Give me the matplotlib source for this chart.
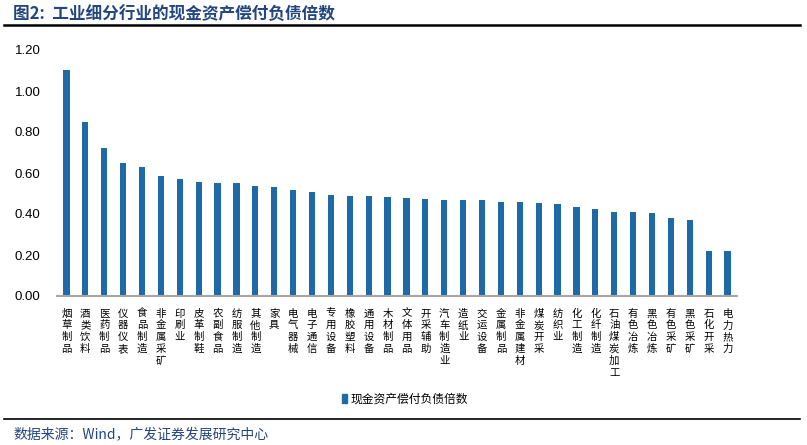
import matplotlib
matplotlib.use('Agg')
import matplotlib.pyplot as plt
from matplotlib.lines import Line2D

plt.rcParams['font.family'] = ['Noto Sans CJK SC', 'DejaVu Sans']

# data
categories = ['烟草制品', '酒类饮料', '医药制品', '仪器仪表', '食品制造', '非金属采矿',
              '印刷业', '皮革制鞋', '农副食品', '纺服制造', '其他制造', '家具',
              '电气器械', '电子通信', '专用设备', '橡胶塑料', '通用设备', '木材制品',
              '文体用品', '开采辅助', '汽车制造业', '造纸业', '交运设备', '金属制品',
              '非金属建材', '煤炭开采', '纺织业', '化工制造', '化纤制造', '石油煤炭加工',
              '有色冶炼', '黑色冶炼', '有色采矿', '黑色采矿', '石化开采', '电力热力']
values = [1.10, 0.85, 0.72, 0.647, 0.63, 0.584,
          0.572, 0.555, 0.551, 0.551, 0.535, 0.533,
          0.516, 0.506, 0.494, 0.489, 0.489, 0.484,
          0.476, 0.471, 0.470, 0.470, 0.468, 0.459,
          0.457, 0.455, 0.449, 0.436, 0.426, 0.410,
          0.410, 0.405, 0.382, 0.372, 0.220, 0.218]
yticks = [0.0, 0.2, 0.4, 0.6, 0.8, 1.0, 1.2]
series_name = '现金资产偿付负债倍数'

bar_color = '#1E6AA6'
navy = '#22467F'

fig = plt.figure(figsize=(8.07, 4.45), dpi=100)
ax = fig.add_axes([57 / 807, 1 - 296 / 445, 680 / 807, 246 / 445])

x = range(len(categories))
ax.bar(x, values, width=0.33, color=bar_color, label=series_name)

ax.set_xlim(-0.5, len(categories) - 0.5)
ax.set_ylim(0, 1.2)
ax.set_yticks(yticks)
ax.set_yticklabels([f'{v:.2f}' for v in yticks], family=['Liberation Sans', 'DejaVu Sans'],
                   fontsize=9.5)
ax.set_xticks(list(x))
ax.set_xticklabels(['\n'.join(c) for c in categories], fontsize=7.5, linespacing=1.22,
                   va='top')
ax.tick_params(axis='both', length=0)
ax.tick_params(axis='y', pad=12)
ax.tick_params(axis='x', pad=9)

for s in ['top', 'right', 'left']:
    ax.spines[s].set_visible(False)
ax.spines['bottom'].set_color('#A6A6A6')
ax.spines['bottom'].set_linewidth(1.5)

# legend below the labels
fig.legend(handles=[plt.Rectangle((0, 0), 1, 1, color=bar_color)], labels=[series_name],
           loc='center', bbox_to_anchor=(405 / 807, 1 - 399 / 445), frameon=False,
           fontsize=8.5, handlelength=0.5, handleheight=0.9, handletextpad=0.3)

# title and rules
fig.text(13 / 807, 1 - 14 / 445, '图2:  工业细分行业的现金资产偿付负债倍数', fontsize=12,
         fontweight='bold', color=navy, va='center', ha='left')
fig.add_artist(Line2D([4 / 807, 800 / 807], [1 - 25 / 445, 1 - 25 / 445], color='black',
                      linewidth=1.8, transform=fig.transFigure))
fig.add_artist(Line2D([4 / 807, 800 / 807], [1 - 419 / 445, 1 - 419 / 445], color='black',
                      linewidth=1.2, transform=fig.transFigure))
fig.text(13 / 807, 1 - 434 / 445, '数据来源：Wind，广发证券发展研究中心', fontsize=10,
         color=navy, va='center', ha='left')

fig.savefig('out.png', dpi=100)
